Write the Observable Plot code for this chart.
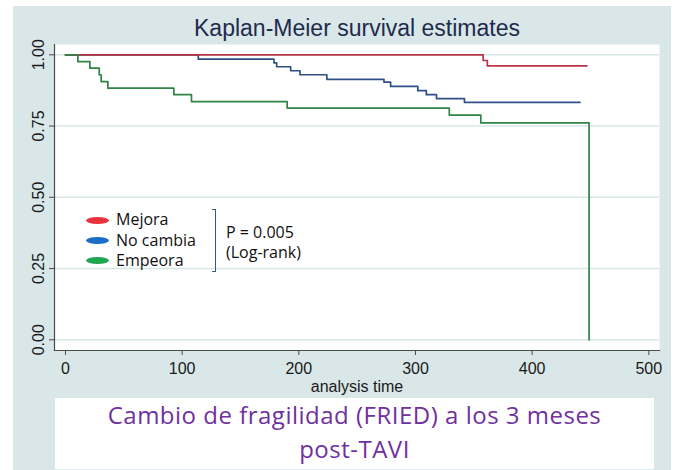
<!DOCTYPE html>
<html>
<head>
<meta charset="utf-8">
<script src="https://cdn.jsdelivr.net/npm/d3@7"></script>
<script src="https://cdn.jsdelivr.net/npm/@observablehq/plot@0.6"></script>
<style>
  html, body { margin: 0; padding: 0; background: #ffffff; }
  #root { position: relative; width: 676px; height: 470px; overflow: hidden; background: #ffffff; }
  #bg { position: absolute; left: 13px; top: 6px; width: 658px; height: 464px; background: #d9e7e8; }
  #chart { position: absolute; left: 0; top: 0; }
  #chart svg { background: transparent; overflow: visible; }
  .leg { position: absolute; font-family: "Open Sans", sans-serif; font-size: 16px; color: #111; line-height: 20px; white-space: nowrap; }
  .dot { position: absolute; width: 23px; height: 7px; border-radius: 50%; }
  #bracket { position: absolute; left: 212px; top: 209px; width: 3px; height: 61px; border: 1.5px solid #3a5878; border-left: none; }
  #caption { position: absolute; left: 55px; top: 398px; width: 599px; height: 71px; background: #ffffff;
             font-family: "Open Sans", sans-serif; font-size: 24px; letter-spacing: 0.5px; color: #7030a0; text-align: center; line-height: 34px; padding-top: 0; box-sizing: border-box; }
</style>
</head>
<body>
<div id="root">
  <div id="bg"></div>
  <div id="chart"></div>
  <div id="legend"></div>
  <div id="bracket"></div>
  <div class="leg" id="ptext" style="left:226px; top:222px;">P = 0.005<br>(Log-rank)</div>
  <div id="caption"></div>
</div>
<script>
// ---- data ----
const groups = ["Mejora", "No cambia", "Empeora"];
const lineColors = ["#b73646", "#2f4f87", "#2f8444"];
const legendColors = ["#e8323e", "#1c6ec4", "#1fa64e"];

const mejoraTime = [0, 358, 361.6, 447];
const mejoraSurv = [1, 0.980, 0.961, 0.961];

const noCambiaTime = [0, 113.8, 178.7, 181, 193, 201, 224, 273, 278.7, 302, 309.3, 318, 342, 441];
const noCambiaSurv = [1, 0.985, 0.972, 0.958, 0.944, 0.930, 0.914, 0.904, 0.889, 0.874, 0.860, 0.846, 0.833, 0.833];

const empeoraTime = [0, 10.6, 20.9, 28.9, 30.6, 36.3, 92.9, 108, 190, 329, 356, 448.8];
const empeoraSurv = [1, 0.976, 0.953, 0.930, 0.906, 0.883, 0.860, 0.836, 0.813, 0.788, 0.761, 0];

const xTicks = [0, 100, 200, 300, 400, 500];
const yTicks = [0, 0.25, 0.5, 0.75, 1];

const titleText = "Kaplan-Meier survival estimates";
const xLabel = "analysis time";
const captionLines = ["Cambio de fragilidad (FRIED) a los 3 meses", "post-TAVI"];

// ---- build tables ----
const toRows = (g, t, s) => t.map((v, i) => ({group: g, time: v, surv: s[i]}));
const mejora = toRows(groups[0], mejoraTime, mejoraSurv);
const noCambia = toRows(groups[1], noCambiaTime, noCambiaSurv);
const empeora = toRows(groups[2], empeoraTime, empeoraSurv);

const plot = Plot.plot({
  width: 676,
  height: 398,
  marginLeft: 54,
  marginRight: 17,
  marginTop: 44,
  marginBottom: 48,
  style: {fontFamily: "Liberation Sans, Arial, sans-serif", fontSize: "16px", color: "#1a1a1a", background: "transparent"},
  x: {domain: [0, 500], range: [65, 648.3]},
  y: {domain: [0, 1], range: [339.3, 54.3]},
  color: {domain: groups, range: lineColors},
  marks: [
    Plot.frame({fill: "#ffffff", stroke: "none"}),
    Plot.gridY(yTicks, {stroke: "#d6e6e7", strokeOpacity: 1, strokeWidth: 1.6}),
    Plot.line(noCambia, {x: "time", y: "surv", stroke: "group", curve: "step-after", strokeWidth: 1.7}),
    Plot.line(mejora, {x: "time", y: "surv", stroke: "group", curve: "step-after", strokeWidth: 1.7}),
    Plot.line(empeora, {x: "time", y: "surv", stroke: "group", curve: "step-after", strokeWidth: 1.7}),
    Plot.frame({anchor: "left", stroke: "#4a4a4a", strokeWidth: 1.2}),
    Plot.frame({anchor: "bottom", stroke: "#4a4a4a", strokeWidth: 1.2}),
    Plot.axisY({ticks: yTicks, tickFormat: d3.format(".2f"), tickSize: 5, tickRotate: -90, tickPadding: 6,
                stroke: "#4a4a4a", fill: "#1a1a1a", fontSize: 16, label: null}),
    Plot.axisX({ticks: xTicks, tickFormat: d3.format("d"), tickSize: 5, tickPadding: 7,
                stroke: "#4a4a4a", fill: "#1a1a1a", fontSize: 16, label: null}),
    Plot.text([xLabel], {text: d => d, frameAnchor: "bottom", dy: 41, lineAnchor: "bottom",
                fontSize: 16, fill: "#1a1a1a"}),
    Plot.text([titleText], {text: d => d, frameAnchor: "top", dy: -9, lineAnchor: "bottom",
                fontSize: 23, fill: "#1f2a4d"})
  ]
});
document.getElementById("chart").appendChild(plot);

// ---- legend ----
const legend = document.getElementById("legend");
const rowY = [220, 240.5, 260.5];
groups.forEach((g, i) => {
  const dot = document.createElement("div");
  dot.className = "dot";
  dot.style.left = "86px";
  dot.style.top = (rowY[i] - 3.5) + "px";
  dot.style.background = legendColors[i];
  legend.appendChild(dot);
  const lab = document.createElement("div");
  lab.className = "leg";
  lab.style.left = "116px";
  lab.style.top = (rowY[i] - 11) + "px";
  lab.textContent = g;
  legend.appendChild(lab);
});

// ---- caption ----
document.getElementById("caption").innerHTML = captionLines.map(s => `<div>${s}</div>`).join("");
</script>
</body>
</html>
